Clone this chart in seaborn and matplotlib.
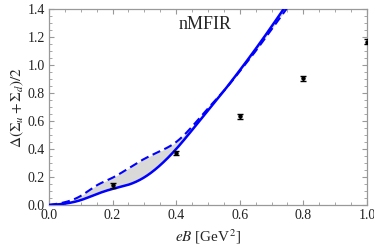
import numpy as np
import pandas as pd
import matplotlib
matplotlib.use("Agg")
import matplotlib.pyplot as plt
import seaborn as sns
from matplotlib.ticker import MultipleLocator

# Data
eB_curve = [0.0, 0.05, 0.1, 0.15, 0.2, 0.25, 0.3, 0.35, 0.4, 0.45, 0.5, 0.55, 0.6, 0.65, 0.7, 0.75]
solid_vals = [0.0, 0.01, 0.035, 0.078, 0.115, 0.145, 0.198, 0.285, 0.40, 0.535, 0.675, 0.815, 0.962, 1.115, 1.275, 1.44]
dashed_vals = [0.0, 0.02, 0.065, 0.14, 0.195, 0.262, 0.33, 0.385, 0.45, 0.56, 0.69, 0.815, 0.955, 1.1, 1.255, 1.41]

eB_data = [0.2, 0.4, 0.6, 0.8, 1.0]
lat_vals = [0.14, 0.372, 0.635, 0.905, 1.165]
lat_err = [0.018, 0.015, 0.018, 0.018, 0.018]

x_ticks = [0.0, 0.2, 0.4, 0.6, 0.8, 1.0]
y_ticks = [0.0, 0.2, 0.4, 0.6, 0.8, 1.0, 1.2, 1.4]

sns.set_style("ticks")
plt.rcParams['font.family'] = ['Liberation Serif', 'DejaVu Serif']
plt.rcParams['mathtext.fontset'] = 'stix'

fig = plt.figure(figsize=(3.74, 2.52), dpi=100)
ax = fig.add_axes([0.131, 0.1865, 0.85, 0.7775])

df = pd.DataFrame({"eB": eB_curve, "solid": solid_vals, "dashed": dashed_vals})


def spline(x, y, xs):
    # natural cubic spline
    x = np.asarray(x, float); y = np.asarray(y, float)
    n = len(x)
    h = np.diff(x)
    A = np.zeros((n, n)); b = np.zeros(n)
    A[0, 0] = 1; A[-1, -1] = 1
    for i in range(1, n - 1):
        A[i, i - 1] = h[i - 1]
        A[i, i] = 2 * (h[i - 1] + h[i])
        A[i, i + 1] = h[i]
        b[i] = 3 * ((y[i + 1] - y[i]) / h[i] - (y[i] - y[i - 1]) / h[i - 1])
    c = np.linalg.solve(A, b)
    bb = (y[1:] - y[:-1]) / h - h * (2 * c[:-1] + c[1:]) / 3
    d = (c[1:] - c[:-1]) / (3 * h)
    idx = np.clip(np.searchsorted(x, xs) - 1, 0, n - 2)
    t = xs - x[idx]
    return y[idx] + bb[idx] * t + c[idx] * t ** 2 + d[idx] * t ** 3


xs = np.linspace(0, 0.75, 400)
sm = pd.DataFrame({"eB": xs,
                   "solid": spline(df.eB, df.solid, xs),
                   "dashed": spline(df.eB, df.dashed, xs)})

ax.fill_between(sm.eB, sm.solid, sm.dashed, color="#d9d9d9", lw=0, zorder=1)
sns.lineplot(data=sm, x="eB", y="solid", ax=ax, color="#0000ff", lw=1.8, zorder=3)
sns.lineplot(data=sm, x="eB", y="dashed", ax=ax, color="#0000ff", lw=1.5, ls=(0, (4, 2.2)), zorder=3)

ax.errorbar(eB_data, lat_vals, yerr=lat_err, fmt='o', color='black', ms=2.2,
            elinewidth=1.0, capsize=2.2, capthick=1.0, zorder=4)

ax.set_xlim(0, 1.0)
ax.set_ylim(0, 1.4)
ax.set_xticks(x_ticks)
ax.set_yticks(y_ticks)
ax.set_xticklabels([f"{v:.1f}" for v in x_ticks])
ax.set_yticklabels([f"{v:.1f}" for v in y_ticks])
ax.xaxis.set_minor_locator(MultipleLocator(0.05))
ax.yaxis.set_minor_locator(MultipleLocator(0.05))

for s in ax.spines.values():
    s.set_color("#999999")
    s.set_linewidth(0.9)
ax.tick_params(which='both', direction='in', top=True, right=True, color="#999999",
               labelsize=10, labelcolor="#222222", pad=3)
ax.tick_params(which='major', length=3.5, width=0.8)
ax.tick_params(which='minor', length=2, width=0.6)

ax.set_xlabel(r"$eB$ [GeV$^2$]", fontsize=11, labelpad=4)
ax.set_ylabel(r"$\mathit{\Delta}(\mathit{\Sigma}_u+\mathit{\Sigma}_d)/2$", fontsize=11, labelpad=1)

ax.text(0.49, 1.29, "nMFIR", fontsize=13, ha="center", va="center")

fig.savefig("out.png", dpi=100)
